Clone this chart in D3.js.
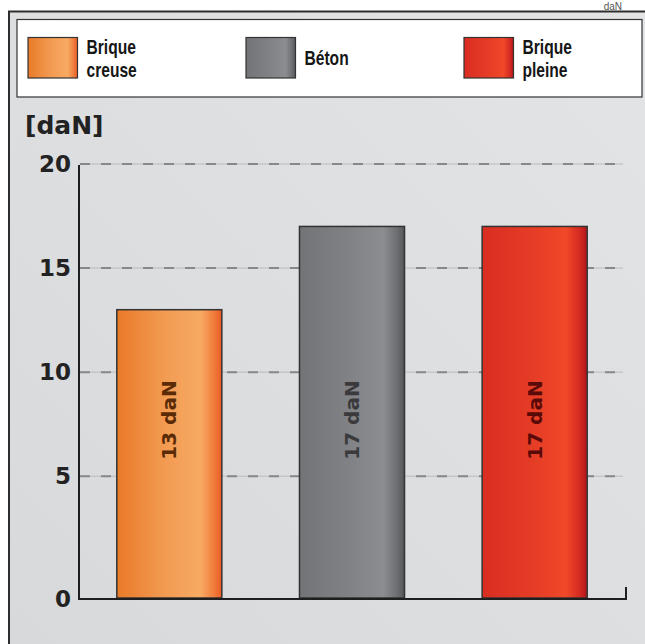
<!DOCTYPE html>
<html><head><meta charset="utf-8">
<script src="https://cdn.jsdelivr.net/npm/d3@7"></script>
<style>html,body{margin:0;padding:0;background:#fff;overflow:hidden}svg{display:block}</style>
</head><body>
<svg id="c" width="645" height="644"></svg>
<script>
const categories = ["Brique creuse", "Béton", "Brique pleine"];
const values = [13, 17, 17];
const barLabels = ["13 daN", "17 daN", "17 daN"];
const legendLines = [["Brique", "creuse"], ["Béton"], ["Brique", "pleine"]];
const yTicks = [0, 5, 10, 15, 20];
const gridTicks = [5, 10, 15, 20];
const unitLabel = "[daN]";
const topLabel = "daN";

const gradStops = [
  [["0%", "#e97a27"], ["45%", "#f29a52"], ["80%", "#f8aa62"], ["93%", "#f07a3a"], ["100%", "#ea5a22"]],
  [["0%", "#737478"], ["45%", "#808185"], ["80%", "#8c8d91"], ["93%", "#6d6e72"], ["100%", "#55565a"]],
  [["0%", "#da2d22"], ["45%", "#e43b26"], ["80%", "#f04828"], ["93%", "#d42a22"], ["100%", "#b0141a"]]
];
const labelColors = ["#5a2b06", "#3a3a3d", "#5a0a08"];

const svg = d3.select("#c");
const defs = svg.append("defs");

const pg = defs.append("linearGradient").attr("id", "panel").attr("x1", "0").attr("y1", "1").attr("x2", "1").attr("y2", "0");
pg.append("stop").attr("offset", "0%").attr("stop-color", "#d8d9db");
pg.append("stop").attr("offset", "100%").attr("stop-color", "#e3e4e6");

gradStops.forEach((stops, i) => {
  const g = defs.append("linearGradient").attr("id", "g" + i).attr("x1", "0").attr("x2", "1").attr("y1", "0").attr("y2", "0");
  stops.forEach(s => g.append("stop").attr("offset", s[0]).attr("stop-color", s[1]));
});

// top small label
svg.append("text").attr("x", 622).attr("y", 9.5).attr("text-anchor", "end")
  .attr("font-family", "Liberation Sans, Arial, sans-serif").attr("font-size", 10)
  .attr("fill", "#555").text(topLabel);

// panel
svg.append("rect").attr("x", 9).attr("y", 11.5).attr("width", 640).attr("height", 640)
  .attr("fill", "url(#panel)").attr("stroke", "#2e2e2e").attr("stroke-width", 2);

// legend box
svg.append("rect").attr("x", 17).attr("y", 19.5).attr("width", 625).attr("height", 77.5)
  .attr("fill", "#fff").attr("stroke", "#333").attr("stroke-width", 1.2);

const lx = d3.scaleLinear().domain([0, 2]).range([28, 464]);
const lg = svg.append("g").selectAll("g").data(categories).join("g")
  .attr("transform", (d, i) => `translate(${lx(i)},0)`);
lg.append("rect").attr("x", 0).attr("y", 37.5).attr("width", 49.5).attr("height", 40.5)
  .attr("fill", (d, i) => `url(#g${i})`).attr("stroke", "#333").attr("stroke-width", 1.2);
lg.each(function (d, i) {
  const lines = legendLines[i];
  const base = lines.length === 1 ? [65] : [54, 76.5];
  const t = d3.select(this);
  lines.forEach((ln, j) => {
    t.append("text").attr("transform", `translate(58.5,${base[j]}) scale(0.8,1)`)
      .attr("font-family", "Liberation Sans, Arial, sans-serif")
      .attr("font-weight", "bold").attr("font-size", 19.5).attr("fill", "#161616").text(ln);
  });
});

const y = d3.scaleLinear().domain([-0.9, 20]).range([599, 164]);
const x = d3.scaleBand().domain(categories).range([78, 626]).paddingInner(0.425).paddingOuter(0.2125);
const baseY = y.range()[0];

svg.append("text").attr("x", 25).attr("y", 134)
  .attr("font-family", "DejaVu Sans, sans-serif").attr("font-weight", "bold").attr("font-size", 25)
  .attr("fill", "#222").text(unitLabel);

const grid = svg.append("g").selectAll("g").data(gridTicks).join("g");
grid.append("line").attr("x1", 80).attr("x2", 623).attr("y1", d => y(d)).attr("y2", d => y(d))
  .attr("stroke", "#b9babc").attr("stroke-width", 1);
grid.append("line").attr("x1", 80).attr("x2", 623).attr("y1", d => y(d)).attr("y2", d => y(d))
  .attr("stroke", "#87888a").attr("stroke-width", 2).attr("stroke-dasharray", "10,11");

svg.append("g").selectAll("text").data(yTicks).join("text")
  .attr("x", 71).attr("y", d => (d === 0 ? baseY : y(d)) + 8)
  .attr("text-anchor", "end")
  .attr("font-family", "DejaVu Sans, sans-serif").attr("font-weight", "bold").attr("font-size", 23)
  .attr("fill", "#222").text(d => d);

const bars = svg.append("g").selectAll("g").data(values).join("g");
bars.append("rect")
  .attr("x", (d, i) => x(categories[i]))
  .attr("y", d => y(d))
  .attr("width", x.bandwidth())
  .attr("height", d => baseY - 1 - y(d))
  .attr("fill", (d, i) => `url(#g${i})`)
  .attr("stroke", "#333").attr("stroke-width", 1.5);
bars.append("text")
  .attr("transform", (d, i) => `translate(${x(categories[i]) + x.bandwidth() / 2 + 7},420) rotate(-90)`)
  .attr("text-anchor", "middle")
  .attr("font-family", "DejaVu Sans, sans-serif").attr("font-weight", "bold").attr("font-size", 20)
  .attr("fill", (d, i) => labelColors[i]).text((d, i) => barLabels[i]);

const xr = x.range();
svg.append("path")
  .attr("d", `M${xr[0] + 1},${y(20) + 1}V${baseY}H${xr[1]}V${baseY - 12}`)
  .attr("fill", "none").attr("stroke", "#1e1e1e").attr("stroke-width", 2);
</script>
</body></html>
